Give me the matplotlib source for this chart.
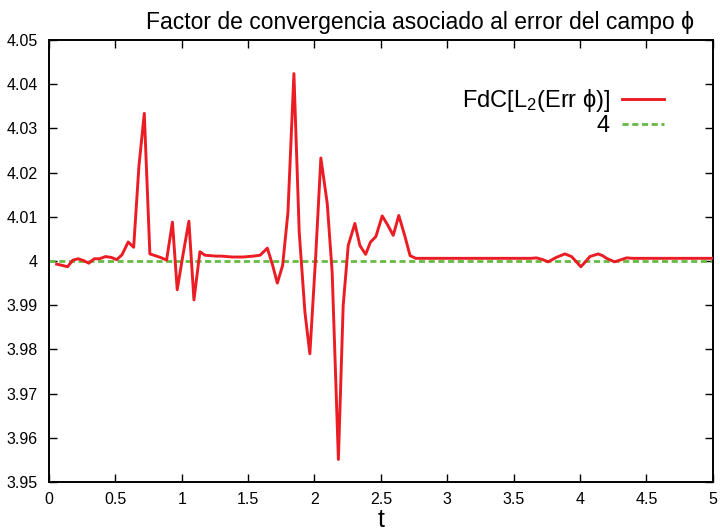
import numpy as np
import matplotlib
matplotlib.use('Agg')
import matplotlib.pyplot as plt
from matplotlib.ticker import FuncFormatter

plt.rcParams['font.family'] = ['Liberation Sans', 'DejaVu Sans']
plt.rcParams['mathtext.fontset'] = 'custom'
plt.rcParams['mathtext.rm'] = 'Liberation Sans'
plt.rcParams['mathtext.it'] = 'Liberation Sans'

# convergence factor of the phi-field error
t = [0.058, 0.10, 0.14, 0.18, 0.22, 0.26, 0.30, 0.34, 0.38, 0.427, 0.47, 0.51,
     0.55, 0.597, 0.638, 0.678, 0.718, 0.76, 0.80, 0.84, 0.886, 0.93, 0.966,
     1.01, 1.054, 1.092, 1.137, 1.175, 1.22, 1.26, 1.30, 1.34, 1.38, 1.42,
     1.46, 1.50, 1.54, 1.59, 1.645, 1.685, 1.72, 1.76, 1.80, 1.845, 1.885,
     1.928, 1.965, 2.008, 2.048, 2.096, 2.133, 2.18, 2.216, 2.254, 2.304,
     2.342, 2.385, 2.422, 2.462, 2.51, 2.55, 2.593, 2.635, 2.68, 2.72, 2.763,
     3.0, 3.3, 3.63, 3.672, 3.72, 3.76, 3.82, 3.886, 3.936, 3.97, 4.006,
     4.04, 4.074, 4.136, 4.17, 4.20, 4.26, 4.31, 4.35, 4.40, 5.0]
fdc = [3.9993, 3.9990, 3.9987, 4.0002, 4.0005, 4.0001, 3.9995, 4.0005, 4.0005,
       4.0010, 4.0008, 4.0003, 4.0014, 4.0043, 4.0031, 4.0216, 4.0334, 4.0016,
       4.0012, 4.0008, 4.0002, 4.0088, 3.9935, 4.0015, 4.0090, 3.9912, 4.0021,
       4.0013, 4.0012, 4.0011, 4.0011, 4.0010, 4.0009, 4.0009, 4.0009, 4.0010,
       4.0011, 4.0013, 4.0029, 3.9990, 3.9950, 3.9990, 4.0110, 4.0424, 4.0065,
       3.9884, 3.9790, 4.0005, 4.0233, 4.0130, 3.9975, 3.9551, 3.9899, 4.0035,
       4.0085, 4.0035, 4.0015, 4.0043, 4.0055, 4.0102, 4.0082, 4.0058, 4.0103,
       4.0057, 4.0012, 4.0006, 4.0006, 4.0006, 4.0006, 4.0007, 4.0003, 3.9998,
       4.0008, 4.0016, 4.0010, 3.9999, 3.9987, 3.9998, 4.0010, 4.0016, 4.0012,
       4.0006, 3.9998, 4.0003, 4.0007, 4.0006, 4.0006]
ref_value = 4

xticks = np.arange(0, 5.01, 0.5)
yticks = np.arange(3.95, 4.0501, 0.01)

fig = plt.figure(figsize=(7.2, 5.31), dpi=100)
ax = fig.add_axes([0.068, 0.0923, 0.922, 0.8324])

ax.plot(t, fdc, color='#ec1c24', lw=2.1, label=r'FdC[L$_2$(Err ϕ)]', zorder=3)
ax.axhline(ref_value, color='#66bb44', lw=2.0, ls=(0, (2.2, 1.3)), label='4', zorder=2)

ax.set_xlim(0, 5)
ax.set_ylim(3.95, 4.05)
ax.set_xticks(xticks)
ax.set_yticks(yticks)
ax.xaxis.set_major_formatter(FuncFormatter(lambda v, p: f'{v:g}'))
ax.yaxis.set_major_formatter(FuncFormatter(lambda v, p: f'{round(v, 2):g}'))
ax.tick_params(direction='in', length=6, width=1, top=True, right=True, labelsize=11.5)
ax.tick_params(axis='y', pad=8)
ax.tick_params(axis='x', pad=7)
for s in ax.spines.values():
    s.set_linewidth(1.4)

ax.set_xlabel('t', fontsize=18, labelpad=1)
fig.text(0.583, 0.958, 'Factor de convergencia asociado al error del campo ϕ',
         ha='center', va='center', fontsize=16.5)

ax.legend(loc='upper right', bbox_to_anchor=(0.959, 0.942), frameon=False, fontsize=17,
          markerfirst=False, handlelength=1.8, handletextpad=0.5, labelspacing=0.05)

plt.savefig('out.png', dpi=100)
plt.close()
